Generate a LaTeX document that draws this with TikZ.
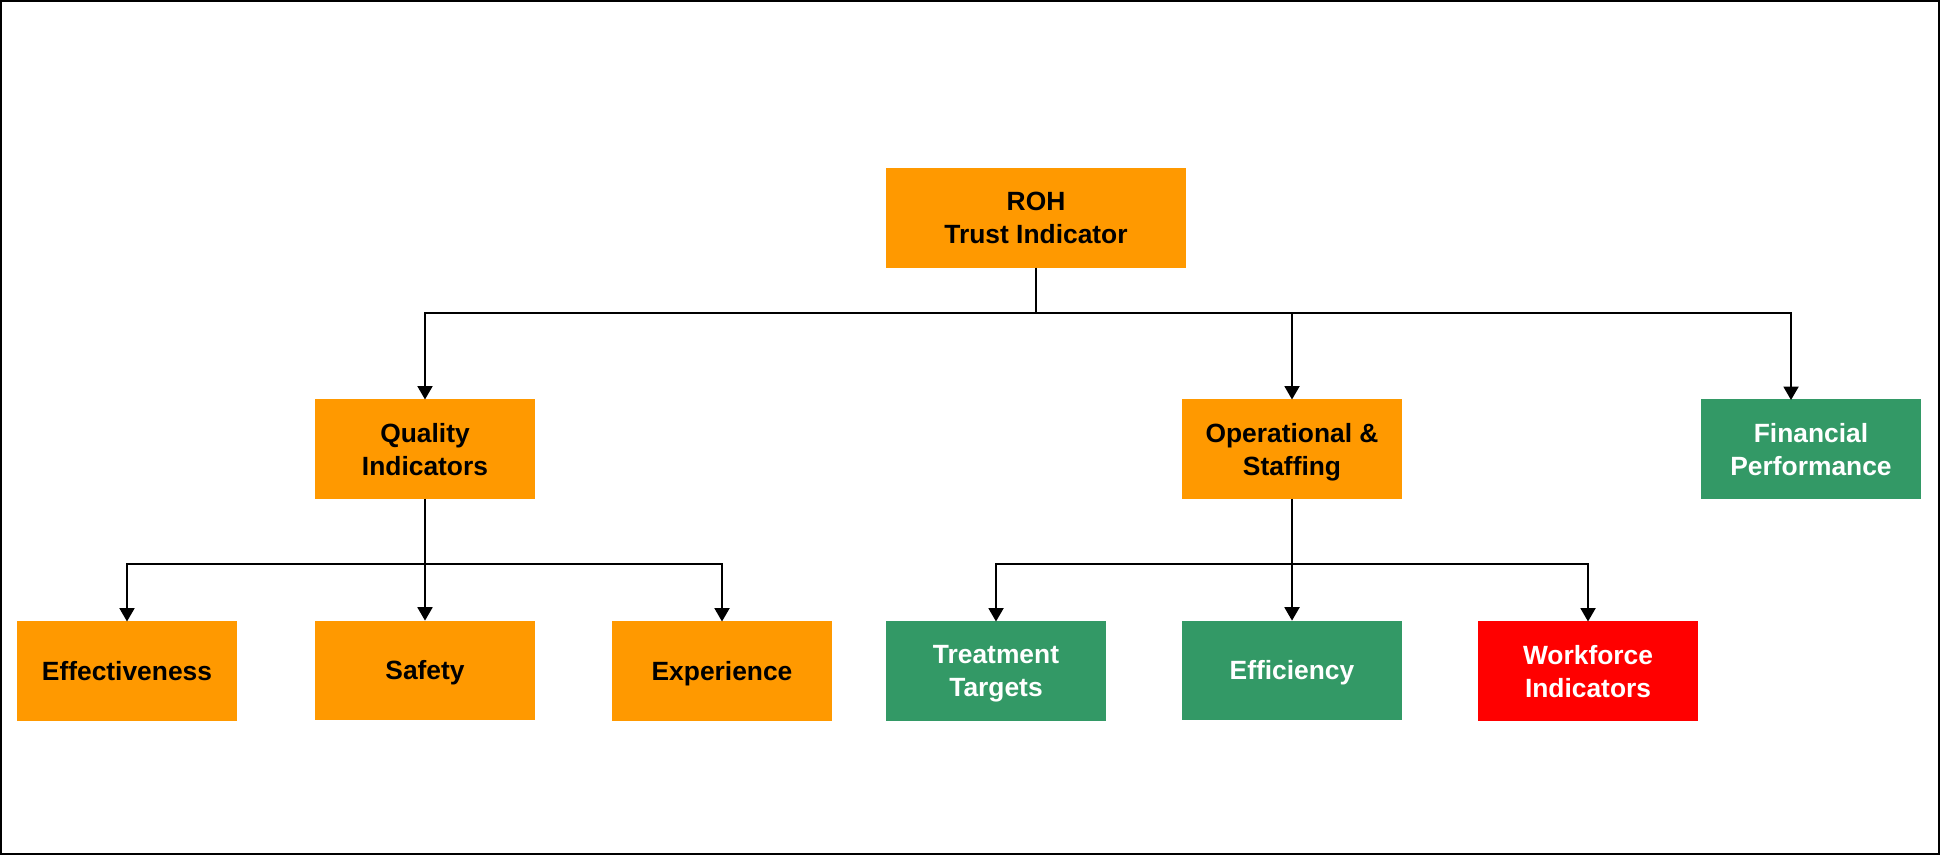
\documentclass[tikz,border=0pt]{standalone}
\usepackage{fontspec}
\setmainfont{Liberation Sans}
\usetikzlibrary{positioning,arrows.meta}
\definecolor{roamber}{HTML}{FF9900}
\definecolor{rogreen}{HTML}{339966}
\definecolor{rored}{HTML}{FF0000}
\tikzset{
    boxnode/.style={
        rectangle,inner sep=0pt,outer sep=0pt,minimum width=2.19cm,minimum height=.99cm,
        align=center,text depth=0pt,font=\fontsize{7.5}{9.4}\selectfont\bfseries
    },
    ambernode/.style={
        boxnode,fill=roamber,text=black
    },
    greennode/.style={
        boxnode,fill=rogreen,text=white
    },
    rednode/.style={
        boxnode,fill=rored,text=white
    }
}
\begin{document}
\begin{tikzpicture}[x=0.01cm, y=-0.01cm, >={Triangle[width=4.3pt,length=3.8pt]}, line width=.4pt]
\useasboundingbox (0,0) rectangle (1940,855);
\draw[line width=.6pt] (1,1) rectangle (1939,854);
\node[ambernode,minimum width=2.99cm] (roh) at (1036,218) {ROH\\Trust Indicator};
\node[ambernode] (quality) at (425,449) {Quality\\Indicators};
\node[ambernode] (ops) at (1292,449) {Operational \&\\Staffing};
\node[greennode] (fin) at (1811,449) {Financial\\Performance};
\node[ambernode,below=1.22cm of quality] (safety) {Safety};
\node[greennode,below=1.22cm of ops] (effic) {Efficiency};
\node[ambernode] (eff) at (127,671) {Effectiveness};
\node[ambernode] (exp) at (722,671) {Experience};
\node[greennode] (treat) at (996,671) {Treatment\\Targets};
\node[rednode] (work) at (1588,671) {Workforce\\Indicators};
\coordinate (bar) at (0,313);
\coordinate (finin) at (1791,400);
\coordinate (subbar) at (0,564);
\draw (roh) -- (roh |- bar);
\draw[->] (roh |- bar) -| (quality);
\draw[->] (roh |- bar) -| (ops);
\draw[->] (roh |- bar) -| (finin);
\draw[->] (quality) -- (safety);
\draw[->] (quality |- subbar) -| (eff);
\draw[->] (quality |- subbar) -| (exp);
\draw[->] (ops) -- (effic);
\draw[->] (ops |- subbar) -| (treat);
\draw[->] (ops |- subbar) -| (work);
\end{tikzpicture}
\end{document}
